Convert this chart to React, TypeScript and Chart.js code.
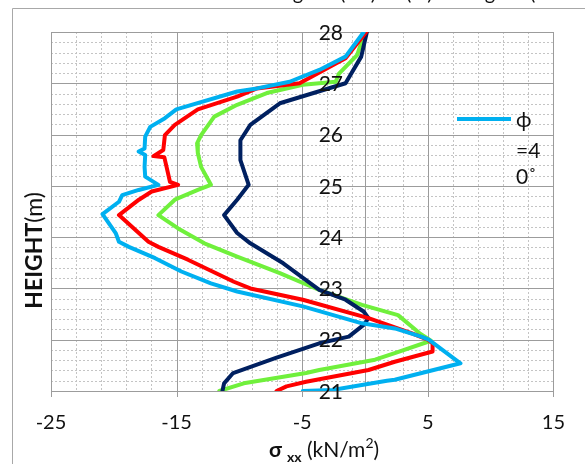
import { useEffect, useRef } from "react";
import { Chart, registerables } from "chart.js";
Chart.register(...registerables);

const X_MIN = -25;
const X_MAX = 15;
const Y_MIN = 21;
const Y_MAX = 28;
const X_MINOR = 2;
const Y_MINOR = 0.2;
const xTickValues = [-25, -15, -5, 5, 15];
const yTickValues = [21, 22, 23, 24, 25, 26, 27, 28];
const seriesNames = ["ϕ=40°", "ϕ=35°", "ϕ=30°", "ϕ=25°"];
const seriesColors = ["#00B0F0", "#FF0000", "#002060", "#70F03C"];

const cyanStress = [-0.1, -1.55, -3.64, -6.0, -8.61, -10.18, -15.02, -15.93, -17.1, -17.5, -17.55, -18.02, -17.5, -17.55, -17.5, -16.45, -18.02, -19.33, -19.59, -20.9, -19.85, -19.59, -18.8, -16.71, -14.62, -12.27, -10.18, -4.95, -0.24, 2.37, 4.47, 5.07, 7.6, 2.37, 1.75, -2.6, -4.95];
const cyanHeight = [28.0, 27.52, 27.26, 27.03, 26.9, 26.84, 26.49, 26.32, 26.15, 25.96, 25.73, 25.67, 25.6, 25.37, 25.18, 25.02, 24.92, 24.82, 24.69, 24.45, 24.08, 23.91, 23.81, 23.59, 23.33, 23.1, 22.94, 22.65, 22.32, 22.22, 22.06, 22.0, 21.54, 21.22, 21.2, 21.02, 21.0];

const redStress = [0.1, -1.55, -5.21, -8.61, -10.18, -13.31, -15.14, -15.93, -16.06, -16.84, -15.98, -15.8, -15.53, -14.88, -16.98, -18.0, -19.59, -17.24, -16.45, -14.1, -10.44, -9.13, -4.95, 0.28, 3.68, 5.0, 5.38, 5.38, 2.37, 0.28, -4.69, -6.25, -7.04];
const redHeight = [28.0, 27.49, 27.0, 26.9, 26.74, 26.49, 26.19, 25.99, 25.7, 25.58, 25.56, 25.37, 25.08, 25.02, 24.89, 24.73, 24.43, 23.91, 23.81, 23.56, 23.13, 23.0, 22.78, 22.42, 22.13, 22.0, 21.93, 21.77, 21.57, 21.41, 21.18, 21.09, 21.0];

const navyStress = [0.15, -0.3, -1.55, -6.78, -9.13, -9.92, -9.92, -9.26, -10.18, -11.22, -10.18, -9.13, -6.51, -3.64, -1.55, -0.11, 0.28, -0.11, -1.29, -3.64, -7.04, -10.5, -11.22, -11.35];
const navyHeight = [28.0, 27.52, 27.0, 26.61, 26.19, 25.89, 25.5, 25.02, 24.73, 24.43, 24.08, 23.88, 23.49, 22.97, 22.78, 22.55, 22.42, 22.29, 22.06, 21.93, 21.65, 21.35, 21.15, 21.0];

const greenStress = [0.0, -0.63, -2.07, -2.33, -4.95, -7.82, -10.18, -12.0, -13.05, -13.37, -13.31, -13.05, -12.27, -13.31, -15.14, -16.45, -14.88, -12.79, -10.18, -6.78, -3.64, -0.24, 2.63, 4.33, 5.25, 2.37, 0.8, -3.64, -4.69, -9.65, -11.6];
const greenHeight = [28.0, 27.55, 27.19, 27.03, 26.97, 26.81, 26.58, 26.35, 25.99, 25.83, 25.64, 25.37, 25.02, 24.92, 24.73, 24.43, 24.17, 23.88, 23.62, 23.3, 22.97, 22.68, 22.48, 22.13, 21.98, 21.74, 21.61, 21.41, 21.35, 21.15, 21.0];

const stressSeries = [cyanStress, redStress, navyStress, greenStress];
const heightSeries = [cyanHeight, redHeight, navyHeight, greenHeight];

const FONT = "Lato, 'Open Sans', sans-serif";
const TEXT = "#111111";

const snap = (v: number) => Math.round(v) + 0.5;

const decorPlugin = {
  id: "decor",
  beforeDatasetsDraw(chart: any) {
    const { ctx, chartArea: a } = chart;
    const xs = chart.scales.x;
    const ys = chart.scales.y;
    const line = (x1: number, y1: number, x2: number, y2: number) => {
      ctx.beginPath();
      ctx.moveTo(x1, y1);
      ctx.lineTo(x2, y2);
      ctx.stroke();
    };
    ctx.save();
    // outer chart-area border
    ctx.strokeStyle = "#a8a8a8";
    ctx.lineWidth = 1;
    line(12.5, 8.5, chart.width, 8.5);
    line(12.5, 8.5, 12.5, chart.height);
    // minor grid
    ctx.strokeStyle = "#c4c4c4";
    ctx.setLineDash([2, 2]);
    const nx = Math.round((X_MAX - X_MIN) / X_MINOR);
    for (let i = 0; i <= nx; i++) {
      const v = X_MIN + i * X_MINOR;
      if ((v - X_MIN) % 10 !== 0) {
        const px = snap(xs.getPixelForValue(v));
        line(px, a.top, px, a.bottom);
      }
    }
    const ny = Math.round((Y_MAX - Y_MIN) / Y_MINOR);
    for (let i = 0; i <= ny; i++) {
      if (i % 5 !== 0) {
        const py = snap(ys.getPixelForValue(Y_MIN + i * Y_MINOR));
        line(a.left, py, a.right, py);
      }
    }
    ctx.setLineDash([]);
    // major grid
    ctx.strokeStyle = "#9c9c9c";
    for (const v of xTickValues) {
      const px = snap(xs.getPixelForValue(v));
      line(px, a.top, px, a.bottom + 6);
    }
    const p0 = snap(xs.getPixelForValue(0));
    line(p0, a.top, p0, a.bottom);
    for (const v of yTickValues) {
      const py = snap(ys.getPixelForValue(v));
      line(a.left, py, a.right, py);
    }
    ctx.restore();
  },
  afterDatasetsDraw(chart: any) {
    const { ctx } = chart;
    const xs = chart.scales.x;
    const ys = chart.scales.y;
    ctx.save();
    ctx.fillStyle = TEXT;
    // y tick labels at axis crossing x = 0
    ctx.font = `21px ${FONT}`;
    ctx.textAlign = "right";
    ctx.textBaseline = "middle";
    const ax = xs.getPixelForValue(0) - 22;
    for (const v of yTickValues) {
      ctx.fillText(String(v), ax, ys.getPixelForValue(v) + 1);
    }
    // y title
    ctx.save();
    ctx.translate(35, 250.5);
    ctx.rotate(-Math.PI / 2);
    ctx.textAlign = "left";
    ctx.textBaseline = "middle";
    const yParts = [
      { t: "HEIGHT", f: `bold 23px ${FONT}` },
      { t: "(m)", f: `23px ${FONT}` },
    ];
    let tw = 0;
    for (const p of yParts) {
      ctx.font = p.f;
      tw += ctx.measureText(p.t).width;
    }
    let cx = -tw / 2;
    for (const p of yParts) {
      ctx.font = p.f;
      ctx.fillText(p.t, cx, 0);
      cx += ctx.measureText(p.t).width;
    }
    ctx.restore();
    // x title
    const xParts = [
      { t: "σ ", f: `bold 21px ${FONT}`, dy: 0 },
      { t: "xx", f: `bold 14px ${FONT}`, dy: 5 },
      { t: " (kN/m", f: `21px ${FONT}`, dy: 0 },
      { t: "2", f: `14px ${FONT}`, dy: -9 },
      { t: ")", f: `21px ${FONT}`, dy: 0 },
    ];
    ctx.textAlign = "left";
    ctx.textBaseline = "alphabetic";
    tw = 0;
    for (const p of xParts) {
      ctx.font = p.f;
      tw += ctx.measureText(p.t).width;
    }
    cx = 324 - tw / 2;
    for (const p of xParts) {
      ctx.font = p.f;
      ctx.fillText(p.t, cx, 457 + p.dy);
      cx += ctx.measureText(p.t).width;
    }
    // legend (first entry, wrapped)
    ctx.strokeStyle = seriesColors[0];
    ctx.lineWidth = 4;
    ctx.beginPath();
    ctx.moveTo(457, 119);
    ctx.lineTo(511, 119);
    ctx.stroke();
    ctx.font = `21px ${FONT}`;
    ctx.textBaseline = "middle";
    ctx.fillText("ϕ", 516, 120);
    ctx.fillText("=4", 516, 151);
    ctx.fillText("0˚", 516, 177);
    // clipped title (only descenders visible)
    ctx.font = `20px ${FONT}`;
    ctx.textBaseline = "alphabetic";
    const drawAnchored = (txt: string, idx: number, cxp: number) => {
      const pre = ctx.measureText(txt.slice(0, idx)).width;
      const w = ctx.measureText(txt[idx]).width;
      ctx.fillText(txt, cxp - pre - w / 2, 0);
    };
    drawAnchored("Friction angle", 11, 298);
    ctx.fillText("(kN)", 340, 0);
    ctx.fillText("(m)", 406, 0);
    drawAnchored("angle", 2, 490);
    ctx.fillText("(", 530, 0);
    ctx.restore();
  },
};

export default function App() {
  const ref = useRef<HTMLCanvasElement | null>(null);
  useEffect(() => {
    if (!ref.current) return;
    const datasets = stressSeries.map((xsArr, i) => ({
      label: seriesNames[i],
      data: xsArr.map((x, j) => ({ x, y: heightSeries[i][j] })),
      borderColor: seriesColors[i],
      backgroundColor: seriesColors[i],
      borderWidth: 4,
      pointRadius: 0,
      tension: 0,
      fill: false,
      borderJoinStyle: "round" as const,
      borderCapStyle: "round" as const,
    }));
    const chart = new Chart(ref.current, {
      type: "line",
      data: { datasets },
      options: {
        responsive: false,
        devicePixelRatio: 1,
        animation: false,
        layout: { padding: { left: 51, right: 24, top: 32, bottom: 0 } },
        plugins: { legend: { display: false }, tooltip: { enabled: false } },
        scales: {
          x: {
            type: "linear",
            min: X_MIN,
            max: X_MAX,
            grid: { display: false, drawTicks: false },
            border: { display: false },
            afterBuildTicks: (s: any) => {
              s.ticks = xTickValues.map((v) => ({ value: v }));
            },
            afterFit: (s: any) => {
              s.height = 73;
            },
            ticks: {
              autoSkip: false,
              maxRotation: 0,
              padding: 20,
              color: TEXT,
              font: { family: FONT, size: 20 },
            },
          },
          y: {
            type: "linear",
            min: Y_MIN,
            max: Y_MAX,
            grid: { display: false, drawTicks: false },
            border: { display: false },
            ticks: { display: false },
            afterFit: (s: any) => {
              s.width = 0;
            },
          },
        },
      },
      plugins: [decorPlugin],
    });
    return () => chart.destroy();
  }, []);
  return (
    <div style={{ position: "fixed", left: 0, top: 0, width: 585, height: 464, background: "#fff" }}>
      <canvas ref={ref} width={585} height={464} style={{ width: 585, height: 464, display: "block" }} />
    </div>
  );
}
